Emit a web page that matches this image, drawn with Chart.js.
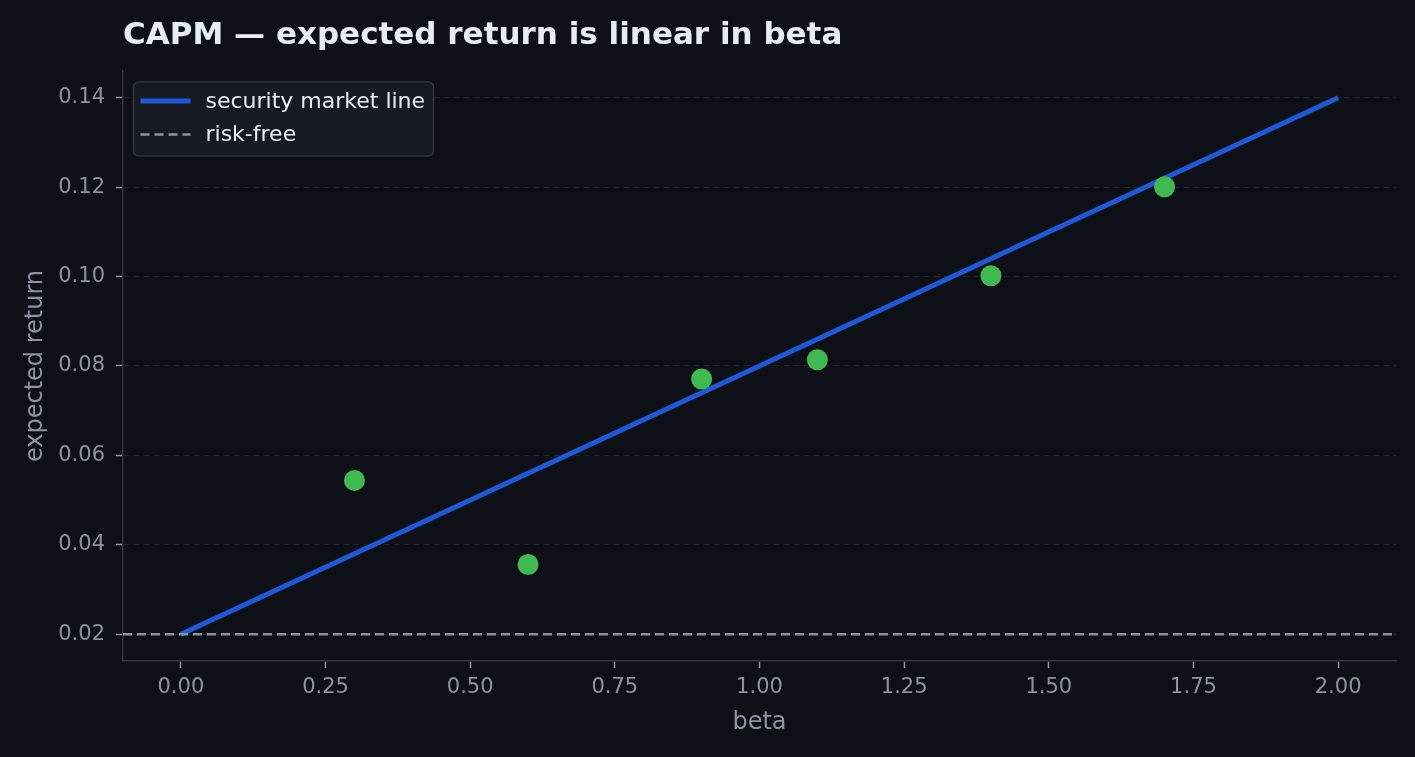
<!DOCTYPE html>
<html>
<head>
<meta charset="utf-8">
<script src="https://cdn.jsdelivr.net/npm/chart.js@4/dist/chart.umd.min.js"></script>
<style>
  html, body { margin: 0; padding: 0; background: #0d1117; }
  #wrap { width: 1415px; height: 757px; }
</style>
</head>
<body>
<div id="wrap"><canvas id="capm-chart" width="1415" height="757"></canvas></div>
<script>
// values
const betaTicks = [0, 0.25, 0.5, 0.75, 1.0, 1.25, 1.5, 1.75, 2.0];
const returnTicks = [0.02, 0.04, 0.06, 0.08, 0.10, 0.12, 0.14];
const smlBeta = [0, 2];
const smlReturn = [0.02, 0.14];
const riskFree = 0.02;
const assetBeta = [0.3, 0.6, 0.9, 1.1, 1.4, 1.7];
const assetReturn = [0.0544, 0.0356, 0.0771, 0.0814, 0.1002, 0.1201];

const xMin = -0.1, xMax = 2.1;
const yMin = 0.014, yMax = 0.146;

const FONT = '"DejaVu Sans", sans-serif';
const muted = '#8b949e';
const spine = '#30363d';

const titleAndLegend = {
  id: 'titleAndLegend',
  afterDraw(chart) {
    const ctx = chart.ctx;
    const area = chart.chartArea;
    ctx.save();
    // title
    ctx.fillStyle = '#e6edf3';
    ctx.font = 'bold 31px ' + FONT;
    ctx.textBaseline = 'alphabetic';
    ctx.textAlign = 'left';
    ctx.fillText('CAPM \u2014 expected return is linear in beta', area.left, 44);

    // legend box inside the plot
    const bx = area.left + 10.5, by = area.top + 11, bw = 300, bh = 74;
    ctx.beginPath();
    ctx.roundRect(bx, by, bw, bh, 5);
    ctx.fillStyle = '#161b22';
    ctx.fill();
    ctx.strokeStyle = spine;
    ctx.lineWidth = 1.5;
    ctx.stroke();

    const items = [chart.data.datasets[0], chart.data.datasets[1]];
    ctx.font = '22px ' + FONT;
    ctx.textBaseline = 'middle';
    items.forEach((ds, i) => {
      const y = by + 19 + i * 33.5;
      ctx.beginPath();
      ctx.setLineDash(ds.borderDash || []);
      ctx.strokeStyle = ds.borderColor;
      ctx.lineWidth = ds.borderWidth;
      ctx.moveTo(bx + 7, y);
      ctx.lineTo(bx + 57, y);
      ctx.stroke();
      ctx.setLineDash([]);
      ctx.fillStyle = '#e6edf3';
      ctx.fillText(ds.label, bx + 72, y + 1);
    });
    ctx.restore();
  }
};

function drawChart() {
  const canvas = document.getElementById('capm-chart');
  if (!canvas) return;
  const ctx = canvas.getContext('2d');

  new Chart(ctx, {
    type: 'scatter',
    data: {
      datasets: [
        {
          label: 'security market line',
          data: smlBeta.map((b, i) => ({ x: b, y: smlReturn[i] })),
          showLine: true,
          borderColor: '#1f58d9',
          borderWidth: 5,
          pointRadius: 0,
          order: 2
        },
        {
          label: 'risk-free',
          data: [{ x: xMin, y: riskFree }, { x: xMax, y: riskFree }],
          showLine: true,
          borderColor: muted,
          borderWidth: 2.5,
          borderDash: [9, 5],
          pointRadius: 0,
          order: 1
        },
        {
          label: 'assets',
          data: assetBeta.map((b, i) => ({ x: b, y: assetReturn[i] })),
          backgroundColor: '#3fb950',
          borderWidth: 0,
          pointRadius: 10.5,
          pointHoverRadius: 10.5,
          order: 0
        }
      ]
    },
    options: {
      responsive: false,
      animation: false,
      events: [],
      layout: { padding: { top: 71, right: 19, bottom: 0, left: 0 } },
      plugins: {
        legend: { display: false },
        title: { display: false },
        tooltip: { enabled: false }
      },
      scales: {
        x: {
          type: 'linear',
          min: xMin,
          max: xMax,
          afterBuildTicks: s => { s.ticks = betaTicks.map(v => ({ value: v })); },
          afterFit: s => { s.height = 96; },
          ticks: {
            color: muted,
            font: { family: FONT, size: 21 },
            padding: 7,
            callback: v => Number(v).toFixed(2)
          },
          grid: {
            drawOnChartArea: false,
            drawTicks: true,
            tickLength: 7,
            tickColor: muted,
            tickWidth: 1.5
          },
          border: { color: spine, width: 1.5 },
          title: {
            display: true,
            text: 'beta',
            color: muted,
            font: { family: FONT, size: 24 },
            padding: { top: 4, bottom: 20 }
          }
        },
        y: {
          type: 'linear',
          min: yMin,
          max: yMax,
          afterBuildTicks: s => { s.ticks = returnTicks.map(v => ({ value: v })); },
          afterFit: s => { s.width = 123; },
          ticks: {
            color: muted,
            font: { family: FONT, size: 21 },
            padding: 11,
            callback: v => Number(v).toFixed(2)
          },
          grid: {
            color: '#1f242b',
            lineWidth: 1,
            tickLength: 7,
            tickColor: muted,
            tickWidth: 1.5
          },
          border: { color: spine, width: 1.5, dash: [6, 4] },
          title: {
            display: true,
            text: 'expected return',
            color: muted,
            font: { family: FONT, size: 24 },
            padding: { top: 21, bottom: 4 }
          }
        }
      }
    },
    plugins: [titleAndLegend]
  });
}

document.addEventListener('DOMContentLoaded', () => {
  drawChart();
});
</script>
</body>
</html>
